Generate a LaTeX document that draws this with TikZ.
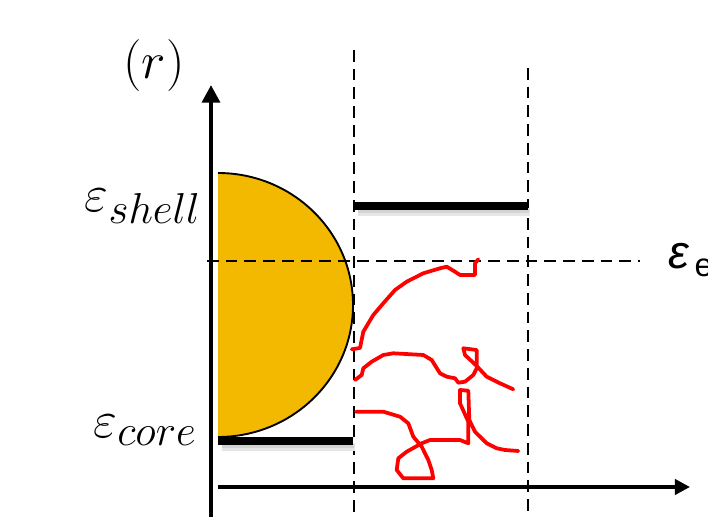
\documentclass[tikz,border=0pt]{standalone}
\usepackage{fontspec}
\newfontfamily\labelsans{Liberation Sans}
\usepackage{graphicx}
\usepackage{tikz}
\usetikzlibrary{arrows.meta}
\DeclareMathSizes{24.88}{24.88}{20.74}{17.28}
\definecolor{Gold}{HTML}{F3B800}
\definecolor{WalkRed}{HTML}{FF0000}
\definecolor{Shade}{HTML}{C8C8C8}
\newcommand{\biglbl}[1]{\scalebox{1.78}{\fontsize{24.88}{28}\selectfont$#1$}}
\begin{document}
\begin{tikzpicture}[x=0.03cm,y=0.03cm,
    axis/.style={line width=3.6pt,-{Triangle[length=15pt,width=15pt]}},
    dashline/.style={line width=2.2pt,dash pattern=on 10pt off 6pt},
    bar/.style={line width=6.5pt},
    shadow/.style={Shade!45,line width=7pt},
    shadowin/.style={Shade!80,line width=3.5pt},
    walk/.style={WalkRed,line width=3.2pt,line join=round,line cap=round},
    lbl/.style={inner sep=0pt}]
  \useasboundingbox (0,0) rectangle (708,517);
  % shell (half disc)
  \fill[Gold] (218,344) arc[start angle=90,end angle=-90,x radius=135,y radius=132];
  \draw[line width=1.6pt] (218,344) arc[start angle=90,end angle=-90,x radius=135,y radius=132];
  % axes
  \coordinate (O) at (211,0);
  \coordinate (Rtop) at (211,432);
  \coordinate (Xl) at (218,30);
  \coordinate (Xr) at (690,30);
  \draw[axis] (O) -- (Rtop);
  \draw[axis,line width=3.2pt,-{Triangle[length=13pt,width=13pt]}] (Xl) -- (Xr);
  % dashed guides
  \draw[dashline] (354,467) -- (354,0);
  \draw[dashline] (528,449) -- (528,0);
  \draw[dashline] (207,256) -- (640,256);
  % energy levels
  \draw[shadow] (222,70) -- (355,70);
  \draw[shadowin] (222,71) -- (354,71);
  \draw[bar] (218,76) -- (353,76);
  \draw[shadow] (358,305) -- (530,305);
  \draw[shadowin] (358,306) -- (529,306);
  \draw[bar] (355,311) -- (528,311);
  % random walks
  \draw[walk] (351.7,167.7) -- (360,169) -- (361.7,177.3) -- (363.3,185.3) -- (373.3,202)
    -- (383.3,213.7) -- (395,227) -- (406.7,235.3) -- (423.3,243.7) -- (440,248.7)
    -- (446.7,250.3) -- (455,245.3) -- (460,242) -- (475,242) -- (475,253.7) -- (478.3,257.7);
  \draw[walk] (355,137) -- (361.7,142) -- (363.3,148.7) -- (371.7,155.3) -- (383.3,162)
    -- (393.3,163.7) -- (423.3,162) -- (431.7,157) -- (440,143.7) -- (446.7,140.3)
    -- (455,138.7) -- (458.3,134.3) -- (465,135.3) -- (473.3,142) -- (476.7,148.7)
    -- (476.7,167) -- (463.3,168.7) -- (465,162) -- (476.7,151) -- (486.7,140.3)
    -- (500,133.7) -- (513.3,127.7);
  \draw[walk] (356,105.3) -- (383.3,105.3) -- (400,100.3) -- (408.3,93.7) -- (413.3,80.3)
    -- (421.7,70.3) -- (428.3,57) -- (431.7,47) -- (433.3,38.7) -- (403.3,38.7)
    -- (396.7,47) -- (398.3,58.7) -- (406.7,65.3) -- (421.7,73.7) -- (430,77) -- (460,77)
    -- (468.3,73.7) -- (468.3,95.3) -- (460,113.7) -- (460,127) -- (468.3,126.3)
    -- (469.3,97) -- (475,85.3) -- (486.7,73.7) -- (496.7,68.7) -- (505,67) -- (518.3,66);
  % labels
  \node[lbl] (rlab) at (154,451) {\biglbl{(r)}};
  \node[lbl,anchor=east] (shell) at (201,311) {\biglbl{\varepsilon_{shell}}};
  \node[lbl,anchor=east] (core) at (197,87) {\biglbl{\varepsilon_{core}}};
  \node[lbl,anchor=west] (elab) at (668,257) {\fontsize{40}{42}\selectfont\labelsans\itshape ε\kern5pt\textsubscript{\upshape e}};
\end{tikzpicture}
\end{document}
